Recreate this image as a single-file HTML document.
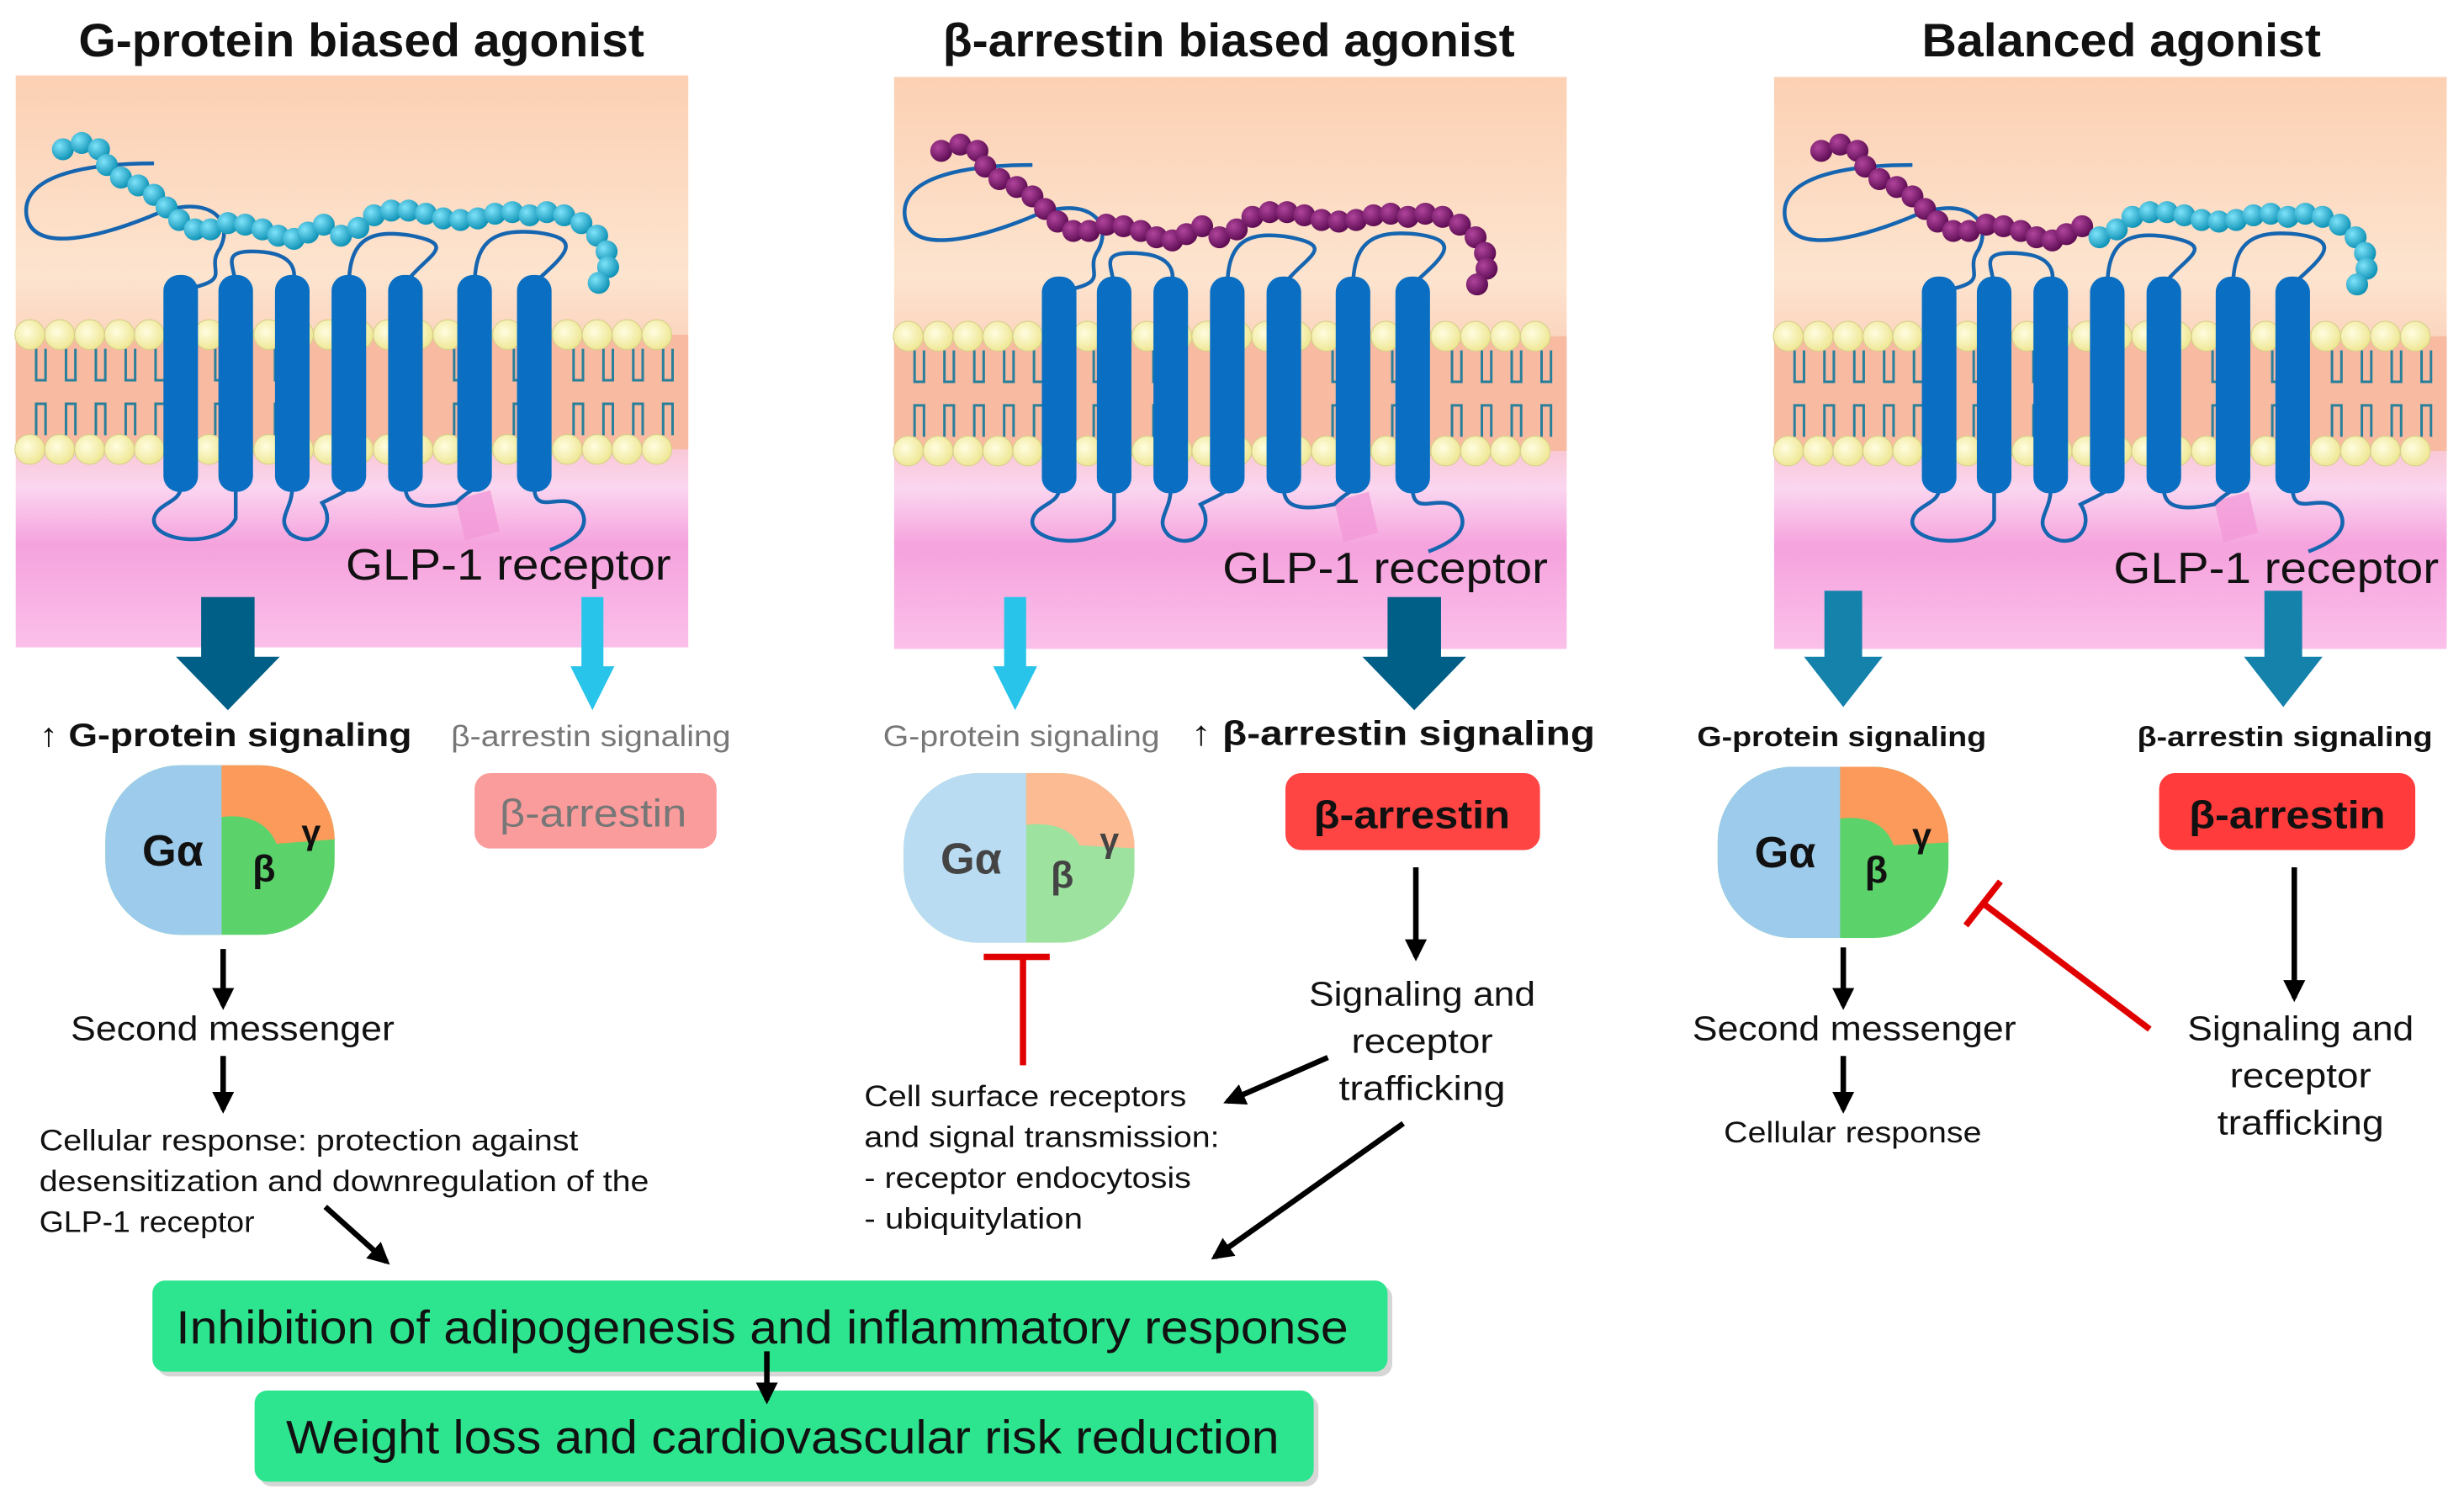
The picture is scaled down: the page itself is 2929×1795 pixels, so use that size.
<!DOCTYPE html>
<html><head><meta charset="utf-8"><style>
html,body{margin:0;padding:0;background:#fff;}
svg{display:block;}
text{font-family:"Liberation Sans",Arial,sans-serif;}
</style></head><body>
<svg width="2929" height="1795" viewBox="0 0 1568 961" preserveAspectRatio="none" xmlns="http://www.w3.org/2000/svg">
<defs>
<linearGradient id="bg" x1="0" y1="0" x2="0" y2="1">
<stop offset="0" stop-color="#fcd0b3"/><stop offset="0.35" stop-color="#fde4cf"/>
<stop offset="0.45" stop-color="#fbd6c0"/><stop offset="0.66" stop-color="#f9c9d8"/>
<stop offset="0.72" stop-color="#fbd6f0"/><stop offset="0.82" stop-color="#f5a2dd"/>
<stop offset="1" stop-color="#fbc0ea"/></linearGradient>
<radialGradient id="cy" cx="0.35" cy="0.35" r="0.7"><stop offset="0" stop-color="#7fe3fa"/><stop offset="1" stop-color="#0a8fb3"/></radialGradient>
<radialGradient id="pu" cx="0.35" cy="0.35" r="0.7"><stop offset="0" stop-color="#b0449c"/><stop offset="1" stop-color="#5a0a50"/></radialGradient>
<radialGradient id="hd" cx="0.4" cy="0.4" r="0.7"><stop offset="0" stop-color="#fffde0"/><stop offset="1" stop-color="#ece48a"/></radialGradient>
<marker id="ah" viewBox="0 0 10 10" refX="8" refY="5" markerWidth="4" markerHeight="4" orient="auto"><path d="M0,0 L10,5 L0,10 Z" fill="#000"/></marker>
<g id="panel">
<rect x="10" y="48" width="428" height="364" fill="url(#bg)"/>
<rect x="10" y="213" width="428" height="73" fill="#f8bba2"/>
<path d="M290,318 L312,312 L318,338 L296,344 Z" fill="#f39ad8" opacity="0.8"/>
<g stroke="#2a7f9a" stroke-width="1.6" fill="none">
<path d="M23,222v20h6v-20 M23,277v-20h6v20 M42,222v20h6v-20 M42,277v-20h6v20 M61,222v20h6v-20 M61,277v-20h6v20 M80,222v20h6v-20 M80,277v-20h6v20 M99,222v20h6v-20 M99,277v-20h6v20 M137,222v20h6v-20 M137,277v-20h6v20 M175,222v20h6v-20 M175,277v-20h6v20 M213,222v20h6v-20 M213,277v-20h6v20 M251,222v20h6v-20 M251,277v-20h6v20 M289,222v20h6v-20 M289,277v-20h6v20 M327,222v20h6v-20 M327,277v-20h6v20 M365,222v20h6v-20 M365,277v-20h6v20 M384,222v20h6v-20 M384,277v-20h6v20 M403,222v20h6v-20 M403,277v-20h6v20 M422,222v20h6v-20 M422,277v-20h6v20"/>
</g>
<g fill="url(#hd)" stroke="#d8cf8a" stroke-width="0.6">
<circle cx="19" cy="213" r="9.5"/><circle cx="38" cy="213" r="9.5"/><circle cx="57" cy="213" r="9.5"/><circle cx="76" cy="213" r="9.5"/><circle cx="95" cy="213" r="9.5"/><circle cx="114" cy="213" r="9.5"/><circle cx="133" cy="213" r="9.5"/><circle cx="152" cy="213" r="9.5"/><circle cx="171" cy="213" r="9.5"/><circle cx="190" cy="213" r="9.5"/><circle cx="209" cy="213" r="9.5"/><circle cx="228" cy="213" r="9.5"/><circle cx="247" cy="213" r="9.5"/><circle cx="266" cy="213" r="9.5"/><circle cx="285" cy="213" r="9.5"/><circle cx="304" cy="213" r="9.5"/><circle cx="323" cy="213" r="9.5"/><circle cx="342" cy="213" r="9.5"/><circle cx="361" cy="213" r="9.5"/><circle cx="380" cy="213" r="9.5"/><circle cx="399" cy="213" r="9.5"/><circle cx="418" cy="213" r="9.5"/>
<circle cx="19" cy="286" r="9.5"/><circle cx="38" cy="286" r="9.5"/><circle cx="57" cy="286" r="9.5"/><circle cx="76" cy="286" r="9.5"/><circle cx="95" cy="286" r="9.5"/><circle cx="114" cy="286" r="9.5"/><circle cx="133" cy="286" r="9.5"/><circle cx="152" cy="286" r="9.5"/><circle cx="171" cy="286" r="9.5"/><circle cx="190" cy="286" r="9.5"/><circle cx="209" cy="286" r="9.5"/><circle cx="228" cy="286" r="9.5"/><circle cx="247" cy="286" r="9.5"/><circle cx="266" cy="286" r="9.5"/><circle cx="285" cy="286" r="9.5"/><circle cx="304" cy="286" r="9.5"/><circle cx="323" cy="286" r="9.5"/><circle cx="342" cy="286" r="9.5"/><circle cx="361" cy="286" r="9.5"/><circle cx="380" cy="286" r="9.5"/><circle cx="399" cy="286" r="9.5"/><circle cx="418" cy="286" r="9.5"/>
</g>
<g fill="none" stroke="#1565b0" stroke-width="2.4">
<path d="M98,104 C60,104 12,110 17,138 C22,162 65,150 95,138 C130,122 150,138 140,158 C130,172 150,178 118,184"/>
<path d="M150,183 C150,170 140,160 160,160 C185,160 190,170 186,183"/>
<path d="M222,183 C222,155 232,145 262,150 C292,156 272,162 258,180"/>
<path d="M302,183 C302,155 312,145 342,148 C372,152 360,162 340,180"/>
<path d="M115,310 C115,320 100,320 98,330 C96,345 140,350 150,330 C150,320 150,315 150,310"/>
<path d="M186,310 C186,325 175,330 185,340 C200,350 215,335 205,320 C215,315 222,312 222,310"/>
<path d="M258,310 C258,320 265,325 290,320 C298,312 302,312 302,310"/>
<path d="M340,310 C340,330 360,310 370,325 C378,340 355,348 350,350"/>
</g>
<g fill="#0a6fc2">
<rect x="104" y="175" width="22" height="138" rx="10"/><rect x="139" y="175" width="22" height="138" rx="10"/><rect x="175" y="175" width="22" height="138" rx="10"/><rect x="211" y="175" width="22" height="138" rx="10"/><rect x="247" y="175" width="22" height="138" rx="10"/><rect x="291" y="175" width="22" height="138" rx="10"/><rect x="329" y="175" width="22" height="138" rx="10"/>
</g>
</g>
</defs>

<g font-weight="bold" font-size="30" fill="#111">
<text x="50" y="36" textLength="360" lengthAdjust="spacingAndGlyphs">G-protein biased agonist</text>
<text x="600" y="36" textLength="364" lengthAdjust="spacingAndGlyphs">β-arrestin biased agonist</text>
<text x="1223" y="36" textLength="254" lengthAdjust="spacingAndGlyphs">Balanced agonist</text>
</g>

<use href="#panel"/>
<use href="#panel" transform="translate(559,1)"/>
<use href="#panel" transform="translate(1119,1)"/>

<g fill="url(#cy)">
<circle cx="40" cy="95" r="7"/><circle cx="52" cy="91" r="7"/><circle cx="63" cy="95" r="7"/><circle cx="68" cy="105" r="7"/><circle cx="77" cy="113" r="7"/><circle cx="88" cy="118" r="7"/><circle cx="98" cy="124" r="7"/><circle cx="106" cy="132" r="7"/><circle cx="114" cy="140" r="7"/><circle cx="124" cy="146" r="7"/><circle cx="134" cy="146" r="7"/><circle cx="145" cy="142" r="7"/><circle cx="156" cy="143" r="7"/><circle cx="167" cy="146" r="7"/><circle cx="177" cy="150" r="7"/><circle cx="187" cy="152" r="7"/><circle cx="196" cy="148" r="7"/><circle cx="206" cy="143" r="7"/><circle cx="217" cy="150" r="7"/><circle cx="228" cy="145" r="7"/><circle cx="238" cy="137" r="7"/><circle cx="249" cy="134" r="7"/><circle cx="260" cy="134" r="7"/><circle cx="271" cy="136" r="7"/><circle cx="282" cy="139" r="7"/><circle cx="293" cy="140" r="7"/><circle cx="304" cy="139" r="7"/><circle cx="315" cy="136" r="7"/><circle cx="326" cy="135" r="7"/><circle cx="337" cy="137" r="7"/><circle cx="348" cy="135" r="7"/><circle cx="359" cy="137" r="7"/><circle cx="370" cy="142" r="7"/><circle cx="380" cy="150" r="7"/><circle cx="386" cy="160" r="7"/><circle cx="387" cy="170" r="7"/><circle cx="381" cy="180" r="7"/>
</g>
<g transform="translate(559,1)" fill="url(#pu)">
<circle cx="40" cy="95" r="7"/><circle cx="52" cy="91" r="7"/><circle cx="63" cy="95" r="7"/><circle cx="68" cy="105" r="7"/><circle cx="77" cy="113" r="7"/><circle cx="88" cy="118" r="7"/><circle cx="98" cy="124" r="7"/><circle cx="106" cy="132" r="7"/><circle cx="114" cy="140" r="7"/><circle cx="124" cy="146" r="7"/><circle cx="134" cy="146" r="7"/><circle cx="145" cy="142" r="7"/><circle cx="156" cy="143" r="7"/><circle cx="167" cy="146" r="7"/><circle cx="177" cy="150" r="7"/><circle cx="187" cy="152" r="7"/><circle cx="196" cy="148" r="7"/><circle cx="206" cy="143" r="7"/><circle cx="217" cy="150" r="7"/><circle cx="228" cy="145" r="7"/><circle cx="238" cy="137" r="7"/><circle cx="249" cy="134" r="7"/><circle cx="260" cy="134" r="7"/><circle cx="271" cy="136" r="7"/><circle cx="282" cy="139" r="7"/><circle cx="293" cy="140" r="7"/><circle cx="304" cy="139" r="7"/><circle cx="315" cy="136" r="7"/><circle cx="326" cy="135" r="7"/><circle cx="337" cy="137" r="7"/><circle cx="348" cy="135" r="7"/><circle cx="359" cy="137" r="7"/><circle cx="370" cy="142" r="7"/><circle cx="380" cy="150" r="7"/><circle cx="386" cy="160" r="7"/><circle cx="387" cy="170" r="7"/><circle cx="381" cy="180" r="7"/>
</g>
<g transform="translate(1119,1)">
<g fill="url(#pu)">
<circle cx="40" cy="95" r="7"/><circle cx="52" cy="91" r="7"/><circle cx="63" cy="95" r="7"/><circle cx="68" cy="105" r="7"/><circle cx="77" cy="113" r="7"/><circle cx="88" cy="118" r="7"/><circle cx="98" cy="124" r="7"/><circle cx="106" cy="132" r="7"/><circle cx="114" cy="140" r="7"/><circle cx="124" cy="146" r="7"/><circle cx="134" cy="146" r="7"/><circle cx="145" cy="142" r="7"/><circle cx="156" cy="143" r="7"/><circle cx="167" cy="146" r="7"/><circle cx="177" cy="150" r="7"/><circle cx="187" cy="152" r="7"/><circle cx="196" cy="148" r="7"/><circle cx="206" cy="143" r="7"/>
</g><g fill="url(#cy)">
<circle cx="217" cy="150" r="7"/><circle cx="228" cy="145" r="7"/><circle cx="238" cy="137" r="7"/><circle cx="249" cy="134" r="7"/><circle cx="260" cy="134" r="7"/><circle cx="271" cy="136" r="7"/><circle cx="282" cy="139" r="7"/><circle cx="293" cy="140" r="7"/><circle cx="304" cy="139" r="7"/><circle cx="315" cy="136" r="7"/><circle cx="326" cy="135" r="7"/><circle cx="337" cy="137" r="7"/><circle cx="348" cy="135" r="7"/><circle cx="359" cy="137" r="7"/><circle cx="370" cy="142" r="7"/><circle cx="380" cy="150" r="7"/><circle cx="386" cy="160" r="7"/><circle cx="387" cy="170" r="7"/><circle cx="381" cy="180" r="7"/>
</g></g>

<g font-size="28" fill="#111">
<text x="220" y="369" textLength="207" lengthAdjust="spacingAndGlyphs">GLP-1 receptor</text>
<text x="778" y="371" textLength="207" lengthAdjust="spacingAndGlyphs">GLP-1 receptor</text>
<text x="1345" y="371" textLength="207" lengthAdjust="spacingAndGlyphs">GLP-1 receptor</text>
</g>

<path d="M128,380 H162 V418 H178 L145,452 L112,418 H128 Z" fill="#005f86"/>
<path d="M370,380 H384 V424 H391 L377,452 L363,424 H370 Z" fill="#29c4ea"/>
<path d="M639,380 H653 V424 H660 L646,452 L632,424 H639 Z" fill="#29c4ea"/>
<path d="M883,380 H917 V418 H933 L900,452 L867,418 H883 Z" fill="#005f86"/>
<path d="M1161,376 H1185 V418 H1198 L1173,450 L1148,418 H1161 Z" fill="#1482ab"/>
<path d="M1441,376 H1465 V418 H1478 L1453,450 L1428,418 H1441 Z" fill="#1482ab"/>

<text x="25" y="475" font-size="21" font-weight="bold" fill="#111" textLength="237" lengthAdjust="spacingAndGlyphs">↑ G-protein signaling</text>
<text x="287" y="475" font-size="19" fill="#777" textLength="178" lengthAdjust="spacingAndGlyphs">β-arrestin signaling</text>
<text x="562" y="475" font-size="19" fill="#777" textLength="176" lengthAdjust="spacingAndGlyphs">G-protein signaling</text>
<text x="758" y="474" font-size="22" font-weight="bold" fill="#111" textLength="257" lengthAdjust="spacingAndGlyphs">↑ β-arrestin signaling</text>
<text x="1080" y="475" font-size="18" font-weight="bold" fill="#111" textLength="184" lengthAdjust="spacingAndGlyphs">G-protein signaling</text>
<text x="1360" y="475" font-size="18" font-weight="bold" fill="#111" textLength="188" lengthAdjust="spacingAndGlyphs">β-arrestin signaling</text>

<clipPath id="c1"><rect x="67" y="487" width="146" height="108" rx="48"/></clipPath>
<g clip-path="url(#c1)">
<rect x="67" y="487" width="146" height="108" fill="#5cd36a"/>
<rect x="67" y="487" width="74" height="108" fill="#9ccbeb"/>
<path d="M141,487 H215 V534 L176,537 C170,522 155,518 141,520 Z" fill="#fb9a5a"/>
</g>
<text x="110" y="551" font-size="28" font-weight="bold" text-anchor="middle" fill="#111">Gα</text>
<text x="168" y="561" font-size="24" font-weight="bold" text-anchor="middle" fill="#111">β</text>
<text x="198" y="537" font-size="22" font-weight="bold" text-anchor="middle" fill="#111">γ</text>

<clipPath id="c2"><rect x="575" y="492" width="147" height="108" rx="48"/></clipPath>
<g clip-path="url(#c2)">
<rect x="575" y="492" width="147" height="108" fill="#9de39f"/>
<rect x="575" y="492" width="78" height="108" fill="#b9dcf3"/>
<path d="M653,492 H724 V540 L687,538 C682,527 668,523 653,525 Z" fill="#fcbb92"/>
</g>
<text x="618" y="556" font-size="28" font-weight="bold" text-anchor="middle" fill="#444">Gα</text>
<text x="676" y="565" font-size="24" font-weight="bold" text-anchor="middle" fill="#444">β</text>
<text x="706" y="542" font-size="22" font-weight="bold" text-anchor="middle" fill="#444">γ</text>

<clipPath id="c3"><rect x="1093" y="488" width="147" height="109" rx="48"/></clipPath>
<g clip-path="url(#c3)">
<rect x="1093" y="488" width="147" height="109" fill="#5cd36a"/>
<rect x="1093" y="488" width="78" height="109" fill="#9ccbeb"/>
<path d="M1171,488 H1242 V536 L1205,538 C1200,523 1185,519 1171,521 Z" fill="#fb9a5a"/>
</g>
<text x="1136" y="552" font-size="28" font-weight="bold" text-anchor="middle" fill="#111">Gα</text>
<text x="1194" y="562" font-size="24" font-weight="bold" text-anchor="middle" fill="#111">β</text>
<text x="1223" y="539" font-size="22" font-weight="bold" text-anchor="middle" fill="#111">γ</text>

<rect x="302" y="492" width="154" height="48" rx="10" fill="#fb9c9c"/>
<text x="318" y="526" font-size="25" fill="#777" textLength="119" lengthAdjust="spacingAndGlyphs">β-arrestin</text>
<rect x="818" y="492" width="162" height="49" rx="10" fill="#ff4444"/>
<text x="836" y="527" font-size="25" font-weight="bold" fill="#111" textLength="125" lengthAdjust="spacingAndGlyphs">β-arrestin</text>
<rect x="1374" y="492" width="163" height="49" rx="10" fill="#ff3b3b"/>
<text x="1393" y="527" font-size="25" font-weight="bold" fill="#111" textLength="125" lengthAdjust="spacingAndGlyphs">β-arrestin</text>

<g stroke="#000" stroke-width="3.5" marker-end="url(#ah)" fill="none">
<line x1="142" y1="604" x2="142" y2="640"/>
<line x1="142" y1="672" x2="142" y2="706"/>
<line x1="207" y1="768" x2="246" y2="803"/>
<line x1="901" y1="552" x2="901" y2="609"/>
<line x1="845" y1="673" x2="781" y2="701"/>
<line x1="893" y1="715" x2="773" y2="800"/>
<line x1="1173" y1="603" x2="1173" y2="640"/>
<line x1="1173" y1="672" x2="1173" y2="706"/>
<line x1="1460" y1="552" x2="1460" y2="635"/>
</g>
<g stroke="#e00000" stroke-width="4" fill="none">
<line x1="651" y1="608" x2="651" y2="678"/><line x1="626" y1="609" x2="668" y2="609"/>
<line x1="1368" y1="655" x2="1262" y2="575"/><line x1="1251" y1="589" x2="1273" y2="561"/>
</g>

<g font-size="22" fill="#111">
<text x="45" y="662" textLength="206" lengthAdjust="spacingAndGlyphs">Second messenger</text>
<text x="1077" y="662" textLength="206" lengthAdjust="spacingAndGlyphs">Second messenger</text>
<text x="833" y="640" textLength="144" lengthAdjust="spacingAndGlyphs">Signaling and</text>
<text x="860" y="670" textLength="90" lengthAdjust="spacingAndGlyphs">receptor</text>
<text x="852" y="700" textLength="106" lengthAdjust="spacingAndGlyphs">trafficking</text>
<text x="1392" y="662" textLength="144" lengthAdjust="spacingAndGlyphs">Signaling and</text>
<text x="1419" y="692" textLength="90" lengthAdjust="spacingAndGlyphs">receptor</text>
<text x="1411" y="722" textLength="106" lengthAdjust="spacingAndGlyphs">trafficking</text>
</g>
<g font-size="19" fill="#111">
<text x="1097" y="727" textLength="164" lengthAdjust="spacingAndGlyphs">Cellular response</text>
<text x="25" y="732" textLength="343" lengthAdjust="spacingAndGlyphs">Cellular response: protection against</text>
<text x="25" y="758" textLength="388" lengthAdjust="spacingAndGlyphs">desensitization and downregulation of the</text>
<text x="25" y="784" textLength="137" lengthAdjust="spacingAndGlyphs">GLP-1 receptor</text>
<text x="550" y="704" textLength="205" lengthAdjust="spacingAndGlyphs">Cell surface receptors</text>
<text x="550" y="730" textLength="226" lengthAdjust="spacingAndGlyphs">and signal transmission:</text>
<text x="550" y="756" textLength="208" lengthAdjust="spacingAndGlyphs">- receptor endocytosis</text>
<text x="550" y="782" textLength="139" lengthAdjust="spacingAndGlyphs">- ubiquitylation</text>
</g>

<rect x="100" y="818" width="786" height="58" rx="8" fill="#bbb" opacity="0.6"/>
<rect x="97" y="815" width="786" height="58" rx="8" fill="#2ee58f"/>
<text x="112" y="855" font-size="30" fill="#111" textLength="746" lengthAdjust="spacingAndGlyphs">Inhibition of adipogenesis and inflammatory response</text>
<rect x="165" y="888" width="674" height="58" rx="8" fill="#bbb" opacity="0.6"/>
<rect x="162" y="885" width="674" height="58" rx="8" fill="#2ee58f"/>
<text x="182" y="925" font-size="30" fill="#111" textLength="632" lengthAdjust="spacingAndGlyphs">Weight loss and cardiovascular risk reduction</text>
<line x1="488" y1="860" x2="488" y2="891" stroke="#000" stroke-width="3.5" marker-end="url(#ah)"/>
</svg>
</body></html>
